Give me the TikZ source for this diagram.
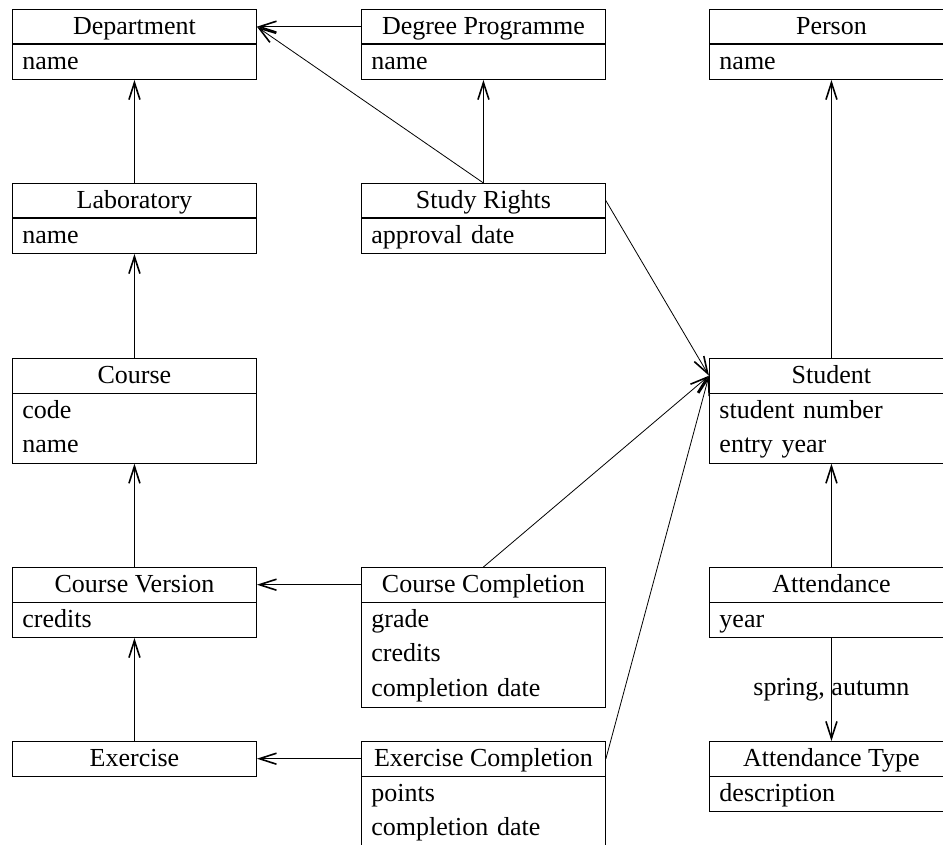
\documentclass[tikz,border=0pt]{standalone}
\usepackage{fontspec}
\setmainfont{Liberation Serif}
\usetikzlibrary{arrows.meta}

% strut for class name rows: 34.5pt tall, baseline 25.5pt below the top
\newcommand{\hdstrut}{\rule[-9pt]{0pt}{34.5pt}}

\tikzset{
  hdr/.style={draw, line width=0.9pt, anchor=north west, minimum width=244pt,
    minimum height=34.5pt, inner sep=0pt,
    font=\fontsize{26}{34.5}\selectfont},
  attrs/.style={draw, line width=0.9pt, anchor=north west, text width=224pt,
    inner xsep=10pt, inner ysep=0pt, align=left,
    font=\fontsize{26}{34.7}\selectfont},
  link/.style={line width=0.8pt,
    -{Straight Barb[length=17pt,width=11pt,line width=1.6pt]}},
  lbl/.style={font=\fontsize{26}{30}\selectfont, inner sep=0pt}
}

\begin{document}
\begin{tikzpicture}[x=1pt,y=-1pt]
\clip (0,0) rectangle (943,845);

% left column
\node[hdr] (dep) at (12,9) {\hdstrut Department};
\node[attrs] (depb) at (dep.south west) {\strut name};
\node[hdr] (lab) at (12,183) {\hdstrut Laboratory};
\node[attrs] (labb) at (lab.south west) {\strut name};
\node[hdr] (crs) at (12,358) {\hdstrut Course};
\node[attrs] (crsb) at (crs.south west) {\strut code\\\strut name};
\node[hdr] (cv) at (12,567) {\hdstrut Course Version};
\node[attrs] (cvb) at (cv.south west) {\strut credits};
\node[hdr] (ex) at (12,741) {\hdstrut Exercise};

% middle column
\node[hdr] (dp) at (361,9) {\hdstrut Degree Programme};
\node[attrs] (dpb) at (dp.south west) {\strut name};
\node[hdr] (sr) at (361,183) {\hdstrut Study Rights};
\node[attrs] (srb) at (sr.south west) {\strut approval date};
\node[hdr] (cc) at (361,567) {\hdstrut Course Completion};
\node[attrs] (ccb) at (cc.south west) {\strut grade\\\strut credits\\\strut completion date};
\node[hdr] (ec) at (361,741) {\hdstrut Exercise Completion};
\node[attrs] (ecb) at (ec.south west) {\strut points\\\strut completion date};

% right column
\node[hdr] (per) at (709,9) {\hdstrut Person};
\node[attrs] (perb) at (per.south west) {\strut name};
\node[hdr] (stu) at (709,358) {\hdstrut Student};
\node[attrs] (stub) at (stu.south west) {\strut student number\\\strut entry year};
\node[hdr] (att) at (709,567) {\hdstrut Attendance};
\node[attrs] (attb) at (att.south west) {\strut year};
\node[hdr] (att2) at (709,741) {\hdstrut Attendance Type};
\node[attrs] (att2b) at (att2.south west) {\strut description};

% associations
\draw[link] (dp.west) -- (dep.east);
\draw[link] (sr.north) -- (dpb.south);
\draw[link] (sr.north) -- (dep.east);
\draw[link] (lab.north) -- (depb.south);
\draw[link] (crs.north) -- (labb.south);
\draw[link] (cv.north) -- (crsb.south);
\draw[link] (ex.north) -- (cvb.south);
\draw[link] (cc.west) -- (cv.east);
\draw[link] (ec.west) -- (ex.east);
\draw[link] (sr.east) -- (stu.west);
\draw[link] (cc.north) -- (stu.west);
\draw[link] (ec.east) -- (stu.west);
\draw[link] (stu.north) -- (perb.south);
\draw[link] (att.north) -- (stub.south);
\draw[link] (attb.south) -- node[lbl] (lab1) {spring, autumn} (att2.north);
\end{tikzpicture}
\end{document}
